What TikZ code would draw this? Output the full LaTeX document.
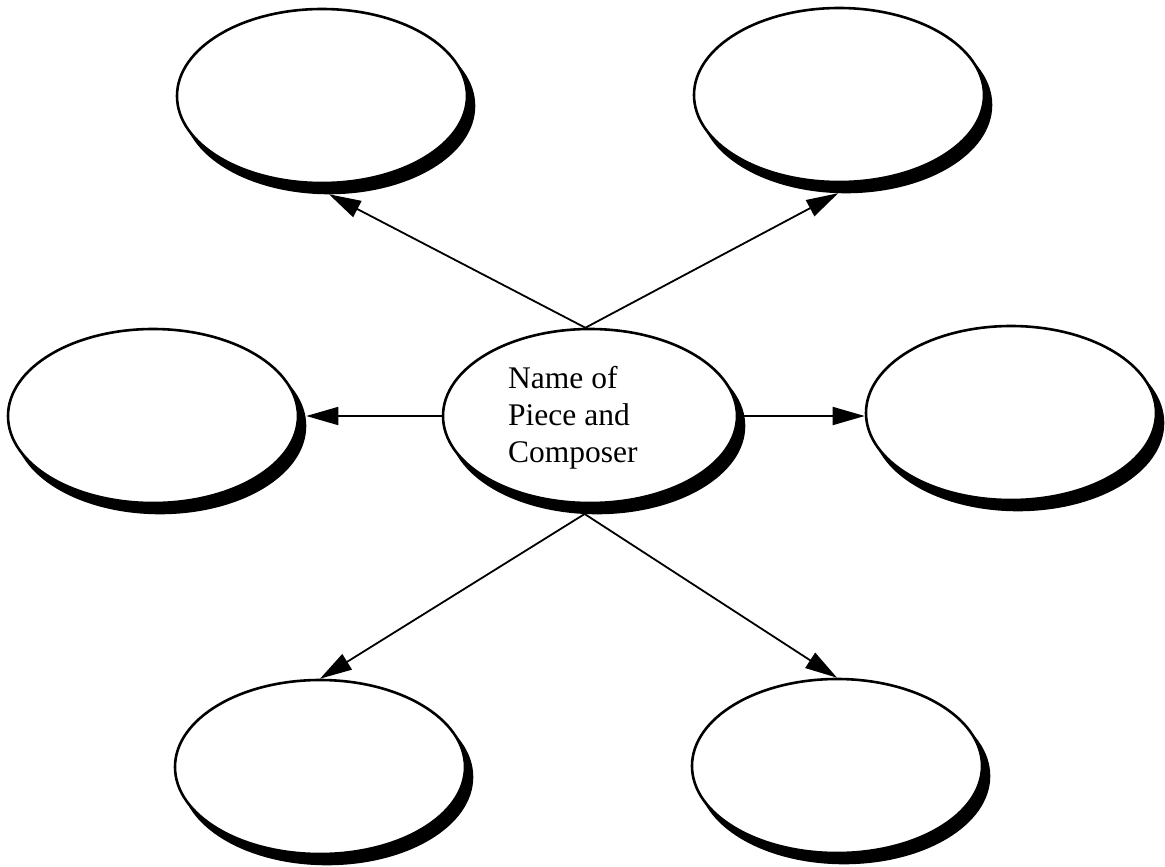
\documentclass[tikz,border=0pt]{standalone}
\usepackage{fontspec}
\setmainfont{Liberation Serif}
\usetikzlibrary{shapes.geometric,arrows.meta}
\begin{document}
\begin{tikzpicture}[x=1pt,y=-1pt,
  bubble/.style={ellipse, draw=black, line width=2.6pt, fill=white, minimum width=290pt, minimum height=174pt, inner sep=0pt},
  shade/.style={ellipse, draw=black, fill=black, line width=2.6pt, minimum width=290pt, minimum height=174pt, inner sep=0pt},
  link/.style={line width=1.8pt, -{Triangle[length=32pt,width=18pt]}}]
\useasboundingbox (0,0) rectangle (1165,867);
% shadows
\node[shade] (tls) at (329,106) {};
\node[shade] (trs) at (846,105) {};
\node[shade] (ls)  at (160,426) {};
\node[shade] (rs)  at (1018,423) {};
\node[shade] (bls) at (327,777) {};
\node[shade] (brs) at (844,776) {};
\node[shade, minimum width=294pt] (cs) at (597,426) {};
% bubbles
\node[bubble] (tl) at (322,96) {};
\node[bubble] (tr) at (839,95) {};
\node[bubble] (l)  at (153,416) {};
\node[bubble] (r)  at (1011,413) {};
\node[bubble] (bl) at (320,767) {};
\node[bubble] (br) at (837,766) {};
\node[bubble, minimum width=294pt] (c) at (590,416) {};
\node[anchor=west, align=left, inner sep=0pt, font=\fontsize{31.5}{37}\selectfont] (lbl) at (508,418) {Name of\\Piece and\\Composer};
% connectors
\draw[link] (c.93) -- (tls.south);
\draw[link] (c.93) -- (trs.265);
\draw[link] (c.west) -- (c.west -| ls.east);
\draw[link] (c.east) -- (c.east -| r.west);
\draw[link] (cs.262) -- (bl.north);
\draw[link] (cs.262) -- (br.north);
\end{tikzpicture}
\end{document}
